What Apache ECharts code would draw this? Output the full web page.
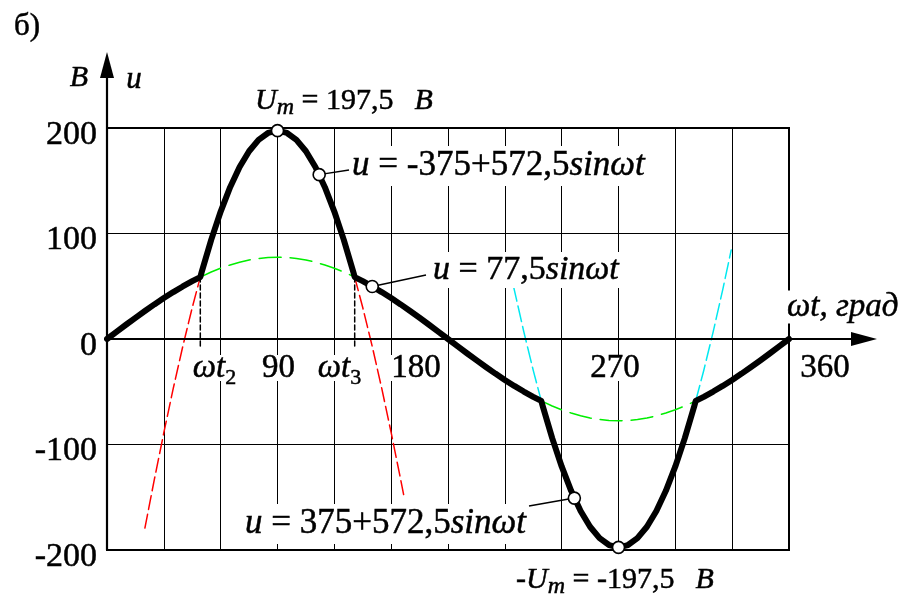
<!DOCTYPE html>
<html><head><meta charset="utf-8">
<script src="https://cdn.jsdelivr.net/npm/echarts@6/dist/echarts.min.js"></script>
<style>html,body{margin:0;padding:0;background:#fff}#c{width:915px;height:598px}</style>
</head><body><div id="c"></div>
<script>
// ---------- data (ωt in degrees, u in volts) ----------
const blackCurve = [
  [0,0],[5,6.8],[10,13.5],[15,20.1],[20,26.5],[25,32.8],[30,38.8],[35,44.5],[40,49.8],[45,54.8],[49.25,58.7],
  [50,63.6],[55,94.0],[60,120.8],[65,143.9],[70,163.0],[75,178.0],[80,188.8],[85,195.3],[90,197.5],
  [95,195.3],[100,188.8],[105,178.0],[110,163.0],[115,143.9],[120,120.8],[125,94.0],[130,63.6],[130.75,58.7],
  [135,54.8],[140,49.8],[145,44.5],[150,38.8],[155,32.8],[160,26.5],[165,20.1],[170,13.5],[175,6.8],[180,0],
  [185,-6.8],[190,-13.5],[195,-20.1],[200,-26.5],[205,-32.8],[210,-38.8],[215,-44.5],[220,-49.8],[225,-54.8],[229.25,-58.7],
  [230,-63.6],[235,-94.0],[240,-120.8],[245,-143.9],[250,-163.0],[255,-178.0],[260,-188.8],[265,-195.3],[270,-197.5],
  [275,-195.3],[280,-188.8],[285,-178.0],[290,-163.0],[295,-143.9],[300,-120.8],[305,-94.0],[310,-63.6],[310.75,-58.7],
  [315,-54.8],[320,-49.8],[325,-44.5],[330,-38.8],[335,-32.8],[340,-26.5],[345,-20.1],[350,-13.5],[355,-6.8],[360,0]
];
const greenTop = [[49.25,58.7],[50,59.4],[55,63.5],[60,67.1],[65,70.2],[70,72.8],[75,74.9],[80,76.3],[85,77.2],[90,77.5],
  [95,77.2],[100,76.3],[105,74.9],[110,72.8],[115,70.2],[120,67.1],[125,63.5],[130,59.4],[130.75,58.7]];
const greenBottom = [[229.25,-58.7],[230,-59.4],[235,-63.5],[240,-67.1],[245,-70.2],[250,-72.8],[255,-74.9],[260,-76.3],[265,-77.2],[270,-77.5],
  [275,-77.2],[280,-76.3],[285,-74.9],[290,-72.8],[295,-70.2],[300,-67.1],[305,-63.5],[310,-59.4],[310.75,-58.7]];
const redLeft = [[20,-179.2],[25,-133.1],[30,-88.8],[35,-46.6],[40,-7.0],[45,29.8],[49.25,58.7]];
const redRight = [[130.75,58.7],[135,29.8],[140,-7.0],[145,-46.6],[150,-88.8],[155,-133.1],[157,-151.3]];
const cyanLeft = [[214.5,50.7],[215,46.6],[220,7.0],[225,-29.8],[229.25,-58.7]];
const cyanRight = [[310.75,-58.7],[315,-29.8],[320,7.0],[325,46.6],[329.5,84.4]];
const dropT2 = [[49.25,58.7],[49.25,-8]];
const dropT3 = [[130.75,58.7],[130.75,-8]];
const markerPoints = [[90,197.5],[112,155.8],[140,49.8],[246.7,-150.8],[270,-197.5]];
const yTickValues = [-200,-100,0,100,200];
const xTickLabels = ['{i|ωt}{sub|2}','{n|90}','{i|ωt}{sub|3}','{n|180}','{n|270}','{n|360}'];

// ---------- chart ----------
const FONT = 'Liberation Serif';
const SW = 0.5; // slight text stroke to match the heavier print
const chart = echarts.init(document.getElementById('c'));
const ln = (data, color, width, dash, z) => ({
  type:'line', data, showSymbol:false, symbol:'none', z, silent:true, animation:false,
  lineStyle:{color, width, type: dash || 'solid', cap:'round', join:'round'}
});
chart.setOption({
  animation:false,
  grid:{left:107, right:126, top:128, bottom:48, show:true, borderColor:'#000', borderWidth:2, backgroundColor:'transparent'},
  xAxis:{type:'value', min:0, max:360, interval:30,
    axisLine:{show:false}, axisTick:{show:false}, axisLabel:{show:false},
    splitLine:{show:true, lineStyle:{color:'#000', width:1}}},
  yAxis:{type:'value', min:-200, max:200, interval:100,
    axisLine:{show:false}, axisTick:{show:false},
    axisLabel:{fontFamily:FONT, fontSize:34, color:'#000', margin:10, verticalAlign:'top', lineHeight:14,
      textBorderColor:'#000', textBorderWidth:SW,
      formatter:(v)=> yTickValues.includes(v) ? String(v) : ''},
    splitLine:{show:true, lineStyle:{color:'#000', width:1}}},
  series:[
    ln(greenTop,'#00ee00',1.5,[22,9],3),
    ln(greenBottom,'#00ee00',1.5,[22,9],3),
    ln(redLeft,'#ff0000',1.5,[14,5],3),
    ln(redRight,'#ff0000',1.5,[14,5],3),
    ln(cyanLeft,'#00e8f0',1.5,[16,5],3),
    ln(cyanRight,'#00e8f0',1.5,[16,5],3),
    ln(dropT2,'#000',1.5,[5,3],3),
    ln(dropT3,'#000',1.5,[5,3],3),
    ln(blackCurve,'#000',6,'solid',65),
    {type:'scatter', data:markerPoints, symbol:'circle', symbolSize:12, z:70, silent:true, animation:false,
      itemStyle:{color:'#fff', borderColor:'#000', borderWidth:1.6, opacity:1}}
  ]
});

// ---------- annotations ----------
const px = (p) => chart.convertToPixel({gridIndex:0}, p);
const st = (size, italic, extra) => Object.assign({fontFamily:FONT, fontSize:size, fontStyle: italic?'italic':'normal',
  fontWeight:'normal', fill:'#000', stroke:'#000', lineWidth:SW}, extra||{});
function txt(text, x, y, size, opts) {
  opts = opts || {};
  const sub = opts.subSize || Math.round(size*0.68);
  const rich = {
    i: st(size, true, {lineHeight: opts.lh || size}),
    n: st(size, false, {lineHeight: opts.lh || size}),
    sub: st(sub, !!opts.subItalic, {lineHeight: sub, padding:[opts.subPad||0,0,0,0]})
  };
  return {type:'text', x, y, z: opts.z || 50, silent:true,
    style: Object.assign(st(size, false), {text, rich, lineHeight: opts.lh || size,
      align: opts.align || 'left', verticalAlign:'middle',
      backgroundColor: opts.bg === false ? 'transparent' : '#fff', padding: opts.pad || [0,2,0,2]})};
}
const origin = px([0,0]);
const topLeft = px([0,200]);
const botRight = px([360,-200]);
const xEnd = botRight[0] + 88;
const yEnd = topLeft[1] - 76;

const xLabelX = [214.5, 278.5, 339.5, 416, 615, 825];
const graphics = [];
xTickLabels.forEach((t,k)=>{
  graphics.push(txt(t, xLabelX[k], 368, 33, {align:'center', subSize:22, subPad:20, lh:26}));
});
graphics.push(
  txt('{n|б)}', 12, 27, 31, {bg:false}),
  txt('{i|В}', 79, 78, 30, {align:'center', bg:false}),
  txt('{i|u}', 134, 80, 31, {align:'center', bg:false}),
  txt('{i|ωt, град}', 785, 307, 33),
  txt('{i|U}{sub|m}{n| = 197,5\u2002\u2009}{i|В}', 253, 101, 30, {subSize:24, subPad:14, subItalic:true, bg:false}),
  txt('{n|-}{i|U}{sub|m}{n| = -197,5\u2002\u2009}{i|В}', 514, 580, 30, {subSize:24, subPad:14, subItalic:true, bg:false}),
  txt('{i|u}{n| = -375+572,5}{i|sinωt}', 350, 166, 35, {lh:40}),
  txt('{i|u}{n| = 77,5}{i|sinωt}', 431, 270, 34, {lh:36}),
  txt('{i|u}{n| = 375+572,5}{i|sinωt}', 243, 524, 35, {lh:40})
);
// leader lines from markers to labels
const leaderEnds = [[1,[349,170]],[2,[426,275]],[3,[529,506]]];
leaderEnds.forEach(([mi, end])=>{
  const m = px(markerPoints[mi]);
  graphics.push({type:'line', z:55, silent:true, shape:{x1:m[0], y1:m[1], x2:end[0], y2:end[1]}, style:{stroke:'#000', lineWidth:1.5}});
});
// axes with arrows
graphics.push(
  {type:'line', z:60, silent:true, shape:{x1:origin[0], y1:origin[1], x2:xEnd-20, y2:origin[1]}, style:{stroke:'#000', lineWidth:2.2}},
  {type:'polygon', z:60, silent:true, shape:{points:[[xEnd,origin[1]],[xEnd-26,origin[1]-7],[xEnd-26,origin[1]+7]]}, style:{fill:'#000'}},
  {type:'line', z:60, silent:true, shape:{x1:origin[0], y1:botRight[1], x2:origin[0], y2:yEnd+20}, style:{stroke:'#000', lineWidth:2.2}},
  {type:'polygon', z:60, silent:true, shape:{points:[[origin[0],yEnd],[origin[0]-7,yEnd+26],[origin[0]+7,yEnd+26]]}, style:{fill:'#000'}}
);
chart.setOption({graphic: graphics});
</script>
</body></html>
